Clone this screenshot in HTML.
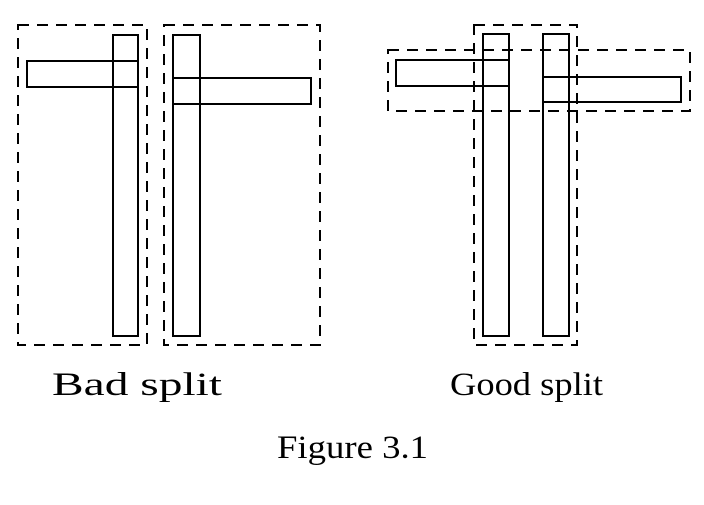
<!DOCTYPE html>
<html><head><style>html,body{margin:0;padding:0;background:#fff}</style></head>
<body>
<svg width="704" height="500" viewBox="0 0 704 500" xmlns="http://www.w3.org/2000/svg">
<g fill="none" stroke="#000" stroke-width="2">
<rect x="27" y="61" width="111" height="26"/>
<rect x="113" y="35" width="25" height="301"/>
<rect x="173" y="35" width="27" height="301"/>
<rect x="173" y="78" width="138" height="26"/>
<rect x="396" y="60" width="113" height="26"/>
<rect x="483" y="34" width="26" height="302"/>
<rect x="543" y="34" width="26" height="302"/>
<rect x="543" y="77" width="138" height="25"/>
</g>
<g fill="none" stroke="#000" stroke-width="2" stroke-dasharray="11,8">
<rect x="18" y="25" width="129" height="320"/>
<rect x="164" y="25" width="156" height="320"/>
<rect x="474" y="25" width="103" height="320"/>
<rect x="388" y="50" width="302" height="61"/>
</g>
<g font-family="'Liberation Serif', serif" font-size="33" fill="#000">
<text x="52" y="395" textLength="170" lengthAdjust="spacingAndGlyphs">Bad split</text>
<text x="450" y="395" textLength="153" lengthAdjust="spacingAndGlyphs">Good split</text>
<text x="277" y="458" textLength="151" lengthAdjust="spacingAndGlyphs">Figure 3.1</text>
</g>
</svg>
</body></html>
